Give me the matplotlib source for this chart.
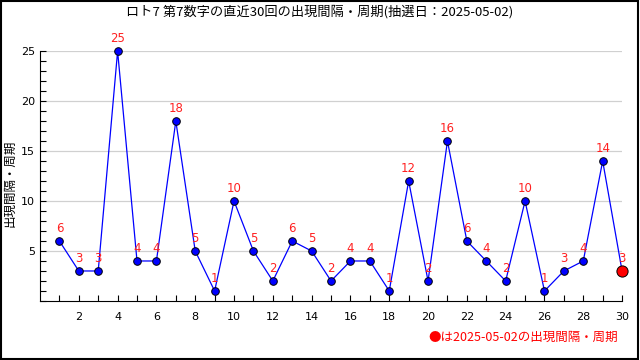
import matplotlib
matplotlib.use("Agg")
import matplotlib.pyplot as plt
from matplotlib.patches import Rectangle
from matplotlib.ticker import MultipleLocator

plt.rcParams['font.family'] = ['Noto Sans CJK JP', 'DejaVu Sans']

draws = list(range(1, 31))
values = [6, 3, 3, 25, 4, 4, 18, 5, 1, 10, 5, 2, 6, 5, 2, 4, 4, 1, 12, 2, 16, 6, 4, 2, 10, 1, 3, 4, 14, 3]
title = "ロト7 第7数字の直近30回の出現間隔・周期(抽選日：2025-05-02)"
ylabel = "出現間隔・周期"
note = "●は2025-05-02の出現間隔・周期"
xticks = list(range(2, 31, 2))
yticks = [5, 10, 15, 20, 25]

fig = plt.figure(figsize=(6.4, 3.6), dpi=100)
fig.patches.append(Rectangle((0.0015, 0.002), 0.996, 0.995, transform=fig.transFigure,
                             fill=False, edgecolor='black', linewidth=1.5))
ax = fig.add_axes([0.0625, 0.164, 0.9095, 0.694])

ax.plot(draws, values, color='#0000ff', linewidth=0.9, zorder=3, clip_on=False)
ax.scatter(draws[:-1], values[:-1], s=30, color='#0000ff', edgecolor='black', linewidth=0.7, zorder=4, clip_on=False)
ax.scatter(draws[-1:], values[-1:], s=65, color='#ff0000', edgecolor='black', linewidth=0.7, zorder=5, clip_on=False)
for x, v in zip(draws, values):
    ax.annotate(str(v), (x, v), xytext=(0, 4.5), textcoords='offset points', ha='center', va='bottom',
                color='#ff2020', fontsize=8.5, family='DejaVu Sans', zorder=6)

ax.set_xlim(0, 30)
ax.set_ylim(0, 25)
ax.set_xticks(draws, minor=False)
ax.set_xticklabels([str(d) if d in xticks else '' for d in draws])
ax.set_yticks(yticks)
ax.yaxis.set_minor_locator(MultipleLocator(1))
ax.tick_params(axis='both', direction='in', labelsize=8, length=4, width=0.8, colors='black')
ax.tick_params(axis='y', which='minor', direction='in', length=4, width=0.8)
ax.tick_params(axis='x', pad=8)
for lbl in ax.get_xticklabels() + ax.get_yticklabels():
    lbl.set_family('DejaVu Sans')
ax.grid(axis='y', color='#d0d0d0', linewidth=0.9, zorder=0)
ax.spines['top'].set_visible(False)
ax.spines['right'].set_visible(False)

fig.text(0.016, 0.49, ylabel, rotation=90, ha='center', va='center', fontsize=9)
fig.text(0.5, 0.968, title, ha='center', va='center', fontsize=9.5)
fig.text(0.966, 0.062, note, ha='right', va='center', fontsize=9, color='#ff0000')

fig.savefig('out.png', dpi=100)
